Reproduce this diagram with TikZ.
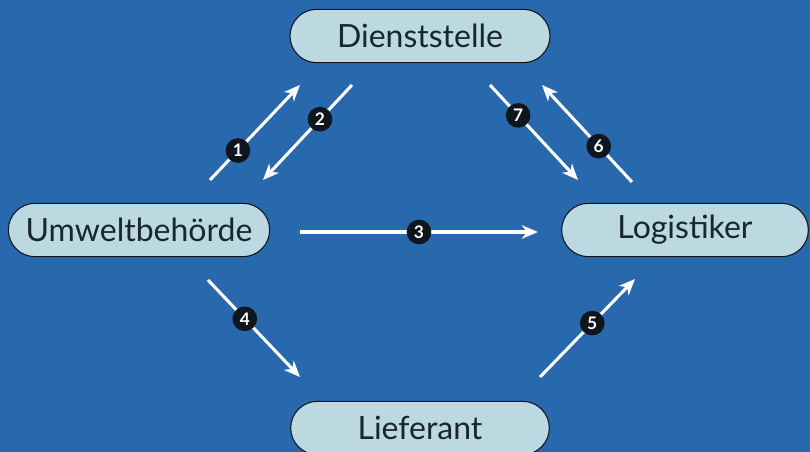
\documentclass[tikz,border=0pt]{standalone}
\usepackage{fontspec}
\setmainfont{Lato}
\usetikzlibrary{arrows.meta,shapes.misc}
\definecolor{bgblue}{RGB}{40,104,172}
\definecolor{boxfill}{RGB}{188,216,224}
\definecolor{boxtext}{RGB}{24,38,46}
\definecolor{badge}{RGB}{16,22,30}

\begin{document}
\begin{tikzpicture}[x=0.75pt, y=-0.75pt, >={Stealth[length=12pt,width=10pt,inset=3.5pt]}]
    \tikzstyle{box}=[draw=badge, line width=0.8pt, fill=boxfill, rounded rectangle,
      text=boxtext, font=\fontsize{24}{26}\selectfont, minimum height=40pt, inner xsep=0pt]
    \tikzstyle{flow}=[->, draw=white, line width=2.3pt]
    \tikzstyle{num}=[circle, fill=badge, text=white, inner sep=0pt, minimum size=18.5pt,
      font=\fontsize{13}{13}\bfseries\selectfont]
    \fill[bgblue] (0,0) rectangle (810,452);
    \useasboundingbox (0,0) rectangle (810,452);

    \node[box, minimum width=195pt] (dienst) at (420,36) {Dienststelle};
    \node[box, minimum width=196pt] (umwelt) at (139,230) {Umweltbehörde};
    \node[box, minimum width=185pt] (logist) at (685,230) {Logistiker};
    \node[box, minimum width=194pt] (liefer) at (420,428) {Lieferant};

    % arrow ends
    \coordinate (u1) at (210,180); \coordinate (d1) at (300,85);
    \coordinate (d2) at (352,85);  \coordinate (u2) at (263,180);
    \coordinate (d7) at (490,85);  \coordinate (l7) at (578,180);
    \coordinate (l6) at (632,182); \coordinate (d6) at (542,85);
    \coordinate (u3) at (300,232); \coordinate (l3) at (538,232);
    \coordinate (u4) at (208,280); \coordinate (f4) at (300,377);
    \coordinate (f5) at (540,377); \coordinate (l5) at (635,279);

    \draw[flow] (u1) -- node[num, pos=0.31]{1} (d1);
    \draw[flow] (d2) -- node[num, pos=0.36]{2} (u2);
    \draw[flow] (u3) -- node[num, pos=0.5]{3} (l3);
    \draw[flow] (u4) -- node[num, pos=0.40]{4} (f4);
    \draw[flow] (f5) -- node[num, pos=0.55]{5} (l5);
    \draw[flow] (l6) -- node[num, pos=0.37]{6} (d6);
    \draw[flow] (d7) -- node[num, pos=0.32]{7} (l7);
  \end{tikzpicture}
\end{document}
